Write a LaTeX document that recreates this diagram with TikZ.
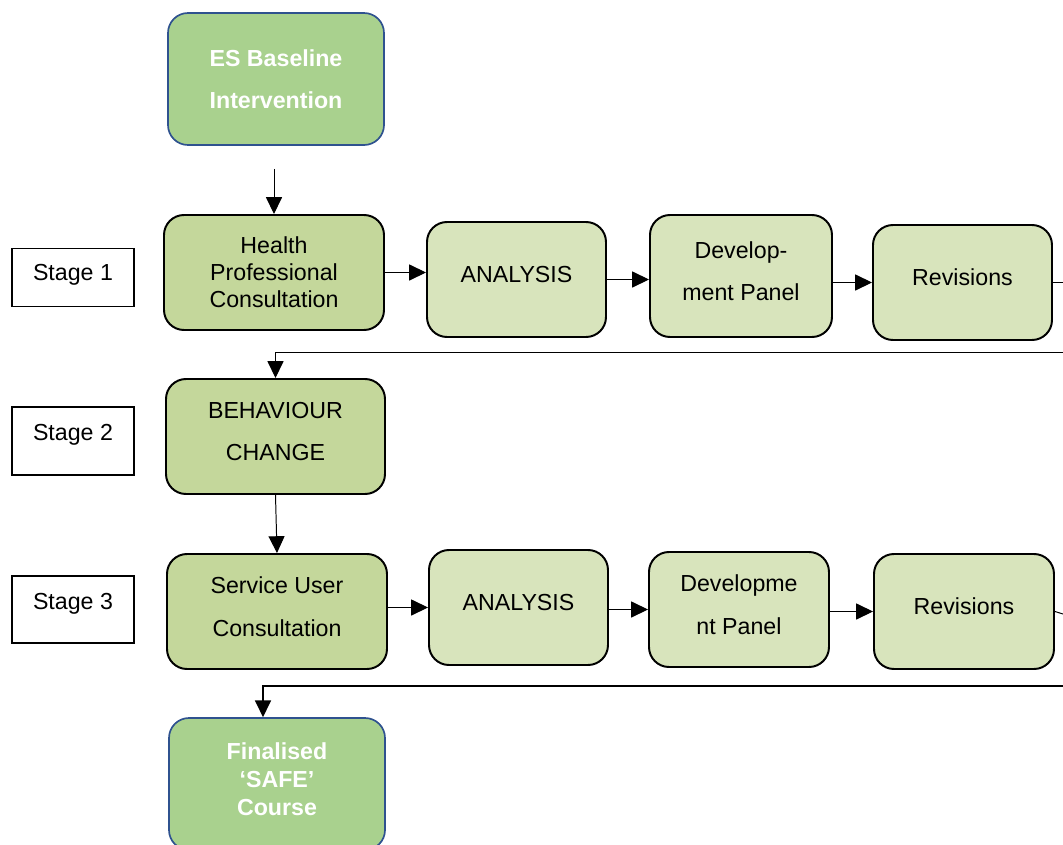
\documentclass[tikz,border=0pt]{standalone}
\usepackage{fontspec}
\setmainfont{Liberation Sans}
\usetikzlibrary{arrows.meta}
\definecolor{startgreen}{HTML}{A9D18E}
\definecolor{startblue}{HTML}{2F528F}
\definecolor{stagegreen}{HTML}{C4D79B}
\definecolor{stepgreen}{HTML}{D8E4BC}

\begin{document}
\begin{tikzpicture}[
  box/.style={draw, line width=1.4pt, rounded corners=0.5cm, align=center, text depth=7pt,
    minimum width=4.5cm, minimum height=2.875cm, font=\fontsize{16.5}{19.2}\selectfont},
  wide/.style={font=\fontsize{16.5}{30}\selectfont},
  endbox/.style={box, draw=startblue, fill=startgreen, text=white, line width=1.2pt,
    minimum width=5.4cm, minimum height=3.3cm, font=\bfseries\fontsize{16.5}{20}\selectfont},
  stagebox/.style={box, fill=stagegreen, minimum width=5.5cm},
  stepbox/.style={box, fill=stepgreen, minimum width=4.475cm},
  stagelabel/.style={draw, line width=0.9pt, minimum width=3.05cm, text depth=12pt,
    font=\fontsize{16.5}{19.2}\selectfont},
  arr/.style={line width=0.7pt, -{Triangle[length=0.42cm, width=0.4cm]}}]
  \clip (0,0) rectangle (26.575,-21.125);
  \node[endbox, text depth=0pt, font=\bfseries\fontsize{16.5}{30}\selectfont] (es) at (6.9,-1.975) {ES Baseline\\Intervention};
  % Stage 1
  \node[stagelabel, minimum height=1.45cm, text depth=7pt] (s1) at (1.825,-6.9375) {Stage 1};
  \node[stagebox, text depth=0pt] (hpc) at (6.85,-6.8125) {Health\\Professional\\Consultation};
  \node[stepbox] (ana1) at (12.9125,-6.9875) {ANALYSIS};
  \node[stepbox, wide, minimum width=4.55cm, minimum height=3.05cm] (dev1) at (18.525,-6.9) {Develop-\\ment Panel};
  \node[stepbox] (rev1) at (24.0625,-7.0625) {Revisions};
  \coordinate (out1) at (26.575,-7.0625);
  \coordinate (back1) at (26.575,-8.8);
  % Stage 2
  \node[stagelabel, minimum height=1.7cm] (s2) at (1.825,-11.025) {Stage 2};
  \node[stagebox, wide, minimum width=5.475cm] (beh) at (6.8875,-10.9125) {BEHAVIOUR\\CHANGE};
  % Stage 3
  \node[stagelabel, minimum height=1.675cm] (s3) at (1.825,-15.2375) {Stage 3};
  \node[stagebox, wide] (suc) at (6.925,-15.2875) {Service User\\Consultation};
  \node[stepbox] (ana2) at (12.9625,-15.1875) {ANALYSIS};
  \node[stepbox, wide, minimum width=4.5cm] (dev2) at (18.475,-15.2375) {Developme\\nt Panel};
  \node[stepbox, minimum width=4.5cm] (rev2) at (24.1,-15.2875) {Revisions};
  \coordinate (out2) at (26.575,-15.35);
  \coordinate (back2) at (26.575,-17.15);
  \node[endbox, font=\bfseries\fontsize{16.5}{19.9}\selectfont] (fin) at (6.925,-19.6) {Finalised\\‘SAFE’\\Course};
  % Draw the flow
  \draw[arr, shorten <=0.575cm] (hpc.north |- es.south) -- (hpc.north);
  \draw[arr] (hpc.east) -- (hpc.east -| ana1.west);
  \draw[arr] (ana1.east) -- (ana1.east -| dev1.west);
  \draw[arr] (rev1.west -| dev1.east) -- (rev1.west);
  \draw[line width=0.7pt] (rev1.east) -- (out1);
  \draw[arr] (back1) -| (beh.north);
  \draw[arr] (beh.south) -- (suc.north);
  \draw[arr] (ana2.west -| suc.east) -- (ana2.west);
  \draw[arr] (ana2.east |- dev2.west) -- (dev2.west);
  \draw[arr] (rev2.west -| dev2.east) -- (rev2.west);
  \draw[line width=0.7pt] (rev2.east) -- (out2);
  \draw[arr, line width=1.3pt] (back2) -| ([xshift=-0.35cm]fin.north);
\end{tikzpicture}
\end{document}
